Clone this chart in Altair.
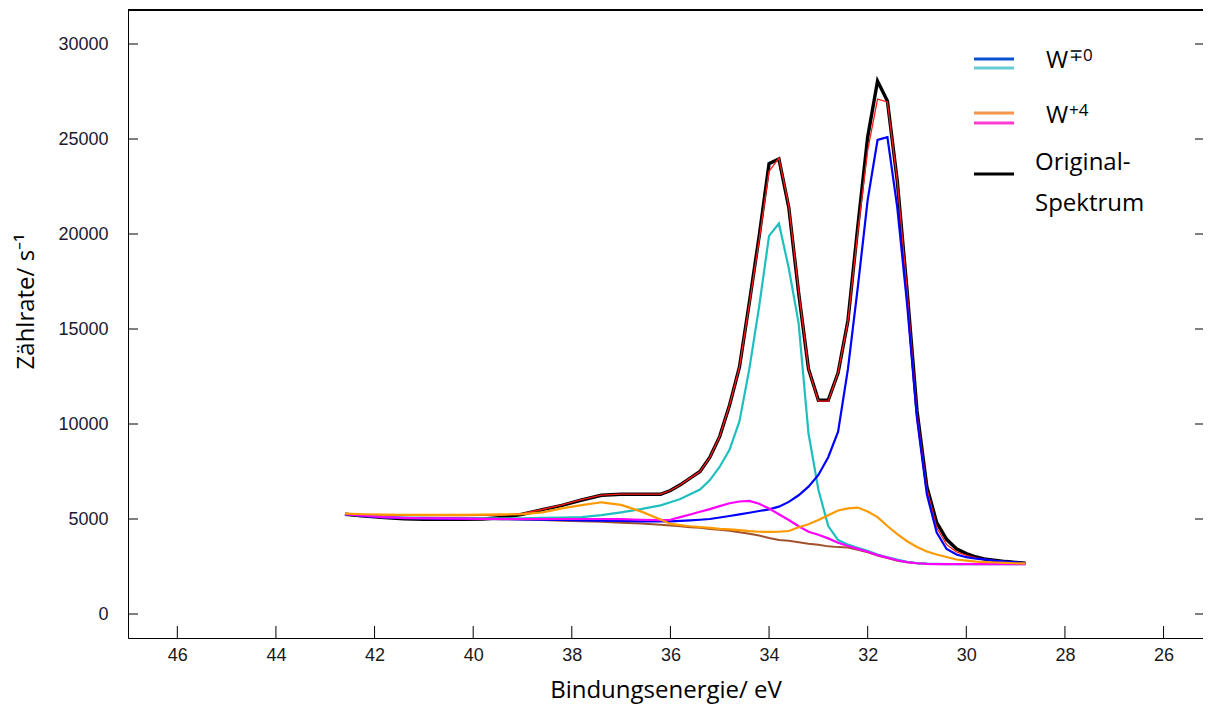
import altair as alt
import pandas as pd

# Binding energy grid (eV)
energy = [42.6, 42.2, 41.8, 41.4, 41.0, 40.6, 40.2, 39.8, 39.4, 39.0, 38.6, 38.2, 37.8, 37.4, 37.0, 36.6, 36.2,
          36.0, 35.8, 35.6, 35.4, 35.2, 35.0, 34.8, 34.6, 34.4, 34.2, 34.0, 33.8, 33.6, 33.4, 33.2, 33.0,
          32.8, 32.6, 32.4, 32.2, 32.0, 31.8, 31.6, 31.4, 31.2, 31.0, 30.8, 30.6, 30.4, 30.2, 30.0,
          29.8, 29.6, 29.4, 29.2, 29.0, 28.8]

original = [5250, 5150, 5070, 5010, 4990, 4980, 4990, 5000, 5080, 5250, 5490, 5720, 6000, 6250, 6300, 6300, 6300,
            6500, 6800, 7150, 7500, 8250, 9350, 11000, 13000, 16400, 19900, 23700, 23950, 21400, 16900, 12900, 11250,
            11250, 12700, 15450, 20400, 25100, 28050, 27000, 22800, 17000, 10700, 6700, 4810, 3930, 3430, 3180,
            3000, 2880, 2820, 2760, 2720, 2680]

envelope = [5230, 5210, 5200, 5190, 5180, 5180, 5180, 5190, 5200, 5300, 5500, 5740, 6020, 6260, 6310, 6310, 6310,
            6500, 6800, 7150, 7500, 8250, 9350, 11000, 13000, 16300, 19700, 23300, 24000, 21500, 17000, 12900, 11200,
            11200, 12700, 15400, 20100, 24400, 27100, 26950, 22800, 17000, 10600, 6600, 4550, 3650, 3270, 3080,
            2950, 2870, 2810, 2760, 2720, 2680]

background = [5250, 5150, 5080, 5040, 5030, 5020, 5010, 5000, 4990, 4980, 4950, 4910, 4880, 4850, 4800, 4760, 4700,
              4660, 4620, 4570, 4540, 4480, 4430, 4380, 4300, 4220, 4130, 4000, 3900, 3850, 3780, 3700, 3640,
              3560, 3520, 3500, 3380, 3250, 3080, 2950, 2800, 2720, 2670, 2640, 2630, 2630, 2630, 2630,
              2630, 2630, 2630, 2630, 2630, 2630]

w0_f52 = [5250, 5180, 5120, 5080, 5060, 5050, 5040, 5030, 5030, 5040, 5060, 5070, 5100, 5200, 5350, 5520, 5720,
          5880, 6050, 6300, 6550, 7050, 7750, 8650, 10150, 12900, 16200, 19900, 20550, 18200, 15300, 9500, 6550,
          4630, 3890, 3650, 3480, 3330, 3130, 2990, 2860, 2750, 2680, 2650, 2640, 2630, 2630, 2630,
          2630, 2630, 2630, 2630, 2630, 2630]

w0_f72 = [5250, 5150, 5080, 5040, 5030, 5020, 5010, 5000, 4990, 4980, 4970, 4950, 4930, 4910, 4900, 4880, 4870,
          4880, 4900, 4930, 4960, 5000, 5080, 5160, 5240, 5330, 5420, 5510, 5650, 5900, 6250, 6700, 7320,
          8250, 9600, 12900, 17200, 21800, 24950, 25100, 21400, 16300, 10300, 6300, 4280, 3420, 3130, 2990,
          2910, 2860, 2800, 2760, 2720, 2680]

w4_f52 = [5250, 5170, 5100, 5060, 5040, 5030, 5020, 5010, 5000, 5000, 5000, 5000, 5000, 5000, 4990, 4960, 4940,
          4960, 5100, 5240, 5380, 5520, 5680, 5830, 5920, 5950, 5800, 5550, 5250, 4950, 4620, 4330, 4170,
          3980, 3750, 3580, 3430, 3280, 3100, 2970, 2830, 2730, 2670, 2640, 2630, 2630, 2630, 2630,
          2630, 2630, 2630, 2630, 2630, 2630]

w4_f72 = [5280, 5250, 5230, 5220, 5220, 5220, 5220, 5230, 5240, 5260, 5350, 5560, 5730, 5880, 5740, 5400, 4970,
          4740, 4680, 4620, 4580, 4530, 4480, 4450, 4410, 4360, 4330, 4320, 4330, 4370, 4570, 4720, 4950,
          5200, 5450, 5560, 5600, 5390, 5100, 4630, 4210, 3830, 3530, 3290, 3130, 3000, 2870, 2810,
          2760, 2730, 2710, 2690, 2670, 2660]

x_ticks = [46, 44, 42, 40, 38, 36, 34, 32, 30, 28, 26]
y_ticks = [0, 5000, 10000, 15000, 20000, 25000, 30000]

W, H = 1075, 628
xs = alt.Scale(domain=[47, 25.2], nice=False, zero=False)
ys = alt.Scale(domain=[-1263, 31790], nice=False, zero=False)

xaxis = alt.Axis(values=x_ticks, format="d", title="Bindungsenergie/ eV", ticks=False, tickSize=0, grid=False,
                 domain=True, domainColor="black", domainWidth=1, labelFont="Liberation Sans", labelFontSize=18,
                 labelColor="#1a1a1a", labelPadding=8, labelFlush=False, titleFont="Open Sans", titleFontSize=24,
                 titleFontWeight="normal", titleColor="black", titleY=59, titleBaseline="alphabetic")
yaxis = alt.Axis(values=y_ticks, format="d", title="Zählrate/ s⁻¹", ticks=False, tickSize=0, grid=False,
                 domain=True, domainColor="black", domainWidth=1, labelFont="Liberation Sans", labelFontSize=18,
                 labelColor="#1a1a33", labelPadding=20, titleFont="Open Sans", titleFontSize=24,
                 titleFontWeight="normal", titleColor="black", titleAngle=270, titleX=-95, titleY=291,
                 titleAlign="center", titleBaseline="alphabetic")


def X(f):
    return alt.X(f, type="quantitative", scale=xs, axis=xaxis)


def Y(f):
    return alt.Y(f, type="quantitative", scale=ys, axis=yaxis)


def line(vals, color, width):
    df = pd.DataFrame({"E": energy, "v": vals})
    return alt.Chart(df).mark_line(color=color, strokeWidth=width, strokeJoin="miter").encode(
        x=X("E"), y=Y("v"))


layers = [
    line(original, "#000000", 3.4),
    line(envelope, "#ff1a1a", 1.3),
    line(background, "#a0522d", 2),
    line(w0_f52, "#1fbfbf", 2.2),
    line(w0_f72, "#0000ff", 2.2),
    line(w4_f52, "#ff00ff", 2.2),
    line(w4_f72, "#ff9900", 2.2),
]

xt = pd.DataFrame({"E": x_ticks})
yt = pd.DataFrame({"v": y_ticks})
layers.append(alt.Chart(xt).mark_rule(color="black", strokeWidth=1).encode(
    x=X("E"), y=alt.value(H), y2=alt.value(H - 12)))
layers.append(alt.Chart(yt).mark_rule(color="black", strokeWidth=1).encode(
    y=Y("v"), x=alt.value(0), x2=alt.value(10)))
layers.append(alt.Chart(yt).mark_rule(color="black", strokeWidth=1).encode(
    y=Y("v"), x=alt.value(W - 8), x2=alt.value(W)))
# top frame line
layers.append(alt.Chart(yt).mark_rule(color="black", strokeWidth=1).encode(
    x=alt.value(0), x2=alt.value(W), y=alt.value(0)))

# legend
one = pd.DataFrame({"k": [0]})
leg_lines = [("#0a50d2", 49), ("#66ccd4", 58), ("#f7964a", 103), ("#ff3cd2", 113), ("#000000", 164)]
for c, yy in leg_lines:
    layers.append(alt.Chart(one).mark_rule(color=c, strokeWidth=3).encode(
        x=alt.value(846), x2=alt.value(886), y=alt.value(yy)))

leg_texts = [("W", 918, 58, 24), ("∓0", 941, 51, 17), ("W", 918, 113, 24), ("+4", 941, 106, 17),
             ("Original-", 907, 160, 24), ("Spektrum", 907, 201, 24)]
for t, xx, yy, fs in leg_texts:
    layers.append(alt.Chart(one).mark_text(text=t, font="Open Sans", fontSize=fs, align="left",
                                           baseline="alphabetic", color="black").encode(
        x=alt.value(xx), y=alt.value(yy)))

chart = alt.layer(*layers).properties(
    width=W, height=H,
    autosize=alt.AutoSizeParams(type="none"),
    padding={"left": 120, "top": 2, "right": 0, "bottom": 66},
).configure_view(stroke=None).configure(background="white")

chart.save("out.html", embed_options={"renderer": "svg", "actions": False})
